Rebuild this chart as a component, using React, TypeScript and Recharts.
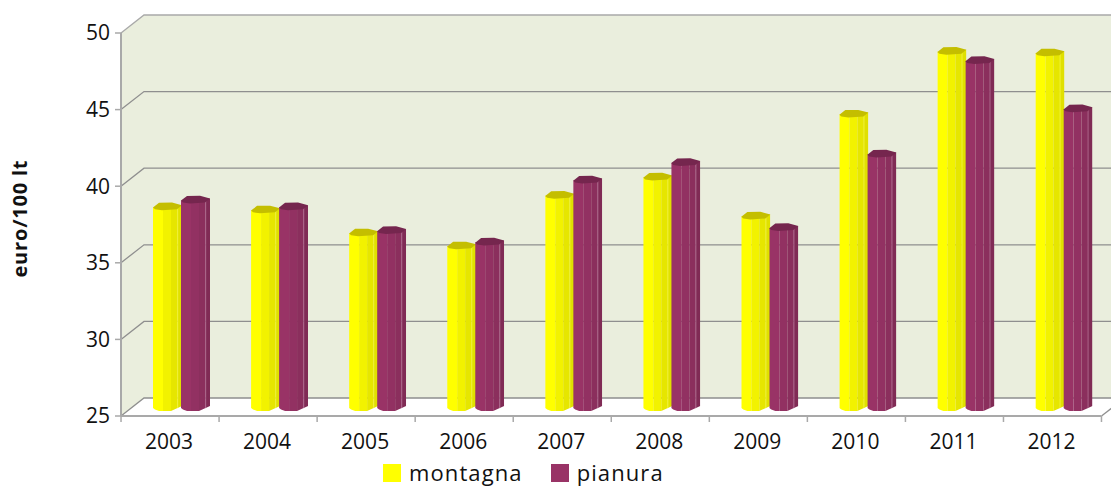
import { Bar, BarChart, CartesianGrid, Legend, XAxis, YAxis, usePlotArea } from 'recharts'

const years = ['2003', '2004', '2005', '2006', '2007', '2008', '2009', '2010', '2011', '2012']
const montagna = [38.1, 37.9, 36.4, 35.55, 38.85, 40.05, 37.5, 44.15, 48.25, 48.15]
const pianura = [38.55, 38.1, 36.55, 35.8, 39.85, 41.0, 36.75, 41.55, 47.65, 44.5]
const yTicks = [25, 30, 35, 40, 45, 50]
const wallTick = [50]

const rows = years.map((year, i) => ({ year, montagna: montagna[i], pianura: pianura[i] }))

const FONT = '"Open Sans", sans-serif'
const GRID = '#8f8f8f'
const AXIS = '#a9a9a9'
const WALL = '#eaeedd'
// how far the back wall sits from the front plane, the bars stand half way
const DEPTH_X = 23
const DEPTH_Y = 18
const BAND = 98

const YELLOW = { bands: ['#ffff00', '#f2f200', '#e6e600'], side: '#e0e000', line: '#f4f43a', top: '#c4be00' }
const MAROON = { bands: ['#993366', '#923162', '#8b2f5d'], side: '#802b55', line: '#b06a90', top: '#75264e' }

function Walls() {
  const plot = usePlotArea()
  if (!plot) return null
  const { x, y, width, height } = plot
  const left = `${x},${y} ${x + DEPTH_X},${y - DEPTH_Y} ${x + DEPTH_X},${y + height - DEPTH_Y} ${x},${y + height}`
  return (
    <g>
      <polygon points={left} fill={WALL} />
      <rect x={x + DEPTH_X} y={y - DEPTH_Y} width={width} height={height} fill={WALL} />
    </g>
  )
}

// the grid is drawn below plain children, so the walls have to go through a grid as well
function wallLine(props: any) {
  return <Walls key={props.key} />
}

function gridLine(props: any) {
  const { x1, x2, y1, key } = props
  const by = y1 - DEPTH_Y
  const isFloor = y1 > 400
  return (
    <g key={key}>
      <path
        d={`M${x1},${y1} L${x1 + DEPTH_X},${by} L${x2 + DEPTH_X},${by}`}
        fill="none"
        stroke={by < 20 ? AXIS : GRID}
        strokeWidth={1.3}
      />
      {isFloor && <line x1={x2} y1={y1} x2={x2 + DEPTH_X} y2={by} stroke={GRID} strokeWidth={1.3} />}
    </g>
  )
}

function Column(props: any) {
  const { x, y, height, index, tone, name } = props
  const x0 = x + DEPTH_X / 2 - 0.5
  const top = y - DEPTH_Y / 2
  const base = y + height - DEPTH_Y / 2
  const w = props.width + 1
  const id = `col-${name}-${index}`
  const body = `M${x0},${top + 1} L${x0 + w},${top - 1} L${x0 + w},${base - 1} L${x0 + 18},${base + 4} L${x0 + 6},${base + 4} L${x0 + 2},${base + 2.5} L${x0},${base + 1} Z`
  const lid = `M${x0},${top + 1.2} L${x0 + 6},${top - 3.5} L${x0 + 19},${top - 3.7} L${x0 + w},${top - 1} L${x0 + w - 5},${top + 3} L${x0 + 9},${top + 4} L${x0 + 2},${top + 3} Z`
  return (
    <g>
      <clipPath id={id}>
        <path d={body} />
      </clipPath>
      <g clipPath={`url(#${id})`}>
        <rect x={x0} y={top - 5} width={10} height={height + 12} fill={tone.bands[0]} />
        <rect x={x0 + 10} y={top - 5} width={8} height={height + 12} fill={tone.bands[1]} />
        <rect x={x0 + 18} y={top - 5} width={6.5} height={height + 12} fill={tone.bands[2]} />
        <rect x={x0 + 24.5} y={top - 5} width={w - 24.5} height={height + 12} fill={tone.side} />
        <line x1={x0 + 24.7} x2={x0 + 24.7} y1={top} y2={base + 2} stroke={tone.line} strokeWidth={0.8} />
      </g>
      <path d={lid} fill={tone.top} />
    </g>
  )
}

function YearTick(props: any) {
  const { x, index, payload } = props
  const left = x - BAND / 2
  return (
    <g>
      <line x1={left} x2={left} y1={416} y2={422} stroke={AXIS} strokeWidth={1.5} />
      {index === years.length - 1 && <line x1={left + BAND} x2={left + BAND} y1={416} y2={422} stroke={AXIS} strokeWidth={1.5} />}
      <text x={x - 1} y={449} textAnchor="middle" fontFamily={FONT} fontSize={21} fill="#111">
        {payload.value}
      </text>
    </g>
  )
}

function LegendRow(props: any) {
  const items = props.payload || []
  return (
    <div style={{ display: 'flex', fontFamily: FONT, fontSize: 22, letterSpacing: 1.1, color: '#111', lineHeight: '23px' }}>
      {items.map((item: any) => (
        <div key={item.value} style={{ display: 'flex', alignItems: 'center', marginRight: 28 }}>
          <span style={{ width: 18, height: 18, background: item.color, marginRight: 8 }} />
          <span>{item.value}</span>
        </div>
      ))}
    </div>
  )
}

export default function App() {
  return (
    <div style={{ position: 'absolute', left: 0, top: 0, width: 1111, height: 486, overflow: 'hidden' }}>
      <BarChart
        width={1111}
        height={486}
        data={rows}
        margin={{ top: 33, right: 9.5, bottom: 0, left: 0 }}
        barCategoryGap={21}
        barGap={0}
      >
        <CartesianGrid vertical={false} horizontal={wallLine} horizontalValues={wallTick} />
        <CartesianGrid vertical={false} horizontal={gridLine} horizontalValues={yTicks} />
        <XAxis
          dataKey="year"
          height={70}
          axisLine={{ stroke: AXIS, strokeWidth: 2 }}
          tickLine={false}
          tick={YearTick}
          interval={0}
        />
        <YAxis
          domain={[25, 50]}
          ticks={yTicks}
          width={121}
          axisLine={{ stroke: AXIS, strokeWidth: 2 }}
          tickLine={{ stroke: AXIS, strokeWidth: 1.5 }}
          tickSize={6}
          tickMargin={5}
          tick={{ fontFamily: FONT, fontSize: 21, fill: '#111' }}
          label={{
            value: 'euro/100 lt',
            angle: -90,
            position: 'insideLeft',
            offset: 20,
            dy: 53,
            style: { fontFamily: FONT, fontSize: 20, letterSpacing: 0.8, fontWeight: 700, fill: '#111' },
          }}
        />
        <Legend
          layout="horizontal"
          verticalAlign="middle"
          align="center"
          content={LegendRow}
          wrapperStyle={{ left: 383, top: 461, width: 400 }}
        />
        <Bar dataKey="montagna" name="montagna" fill="#ffff00" isAnimationActive={false} shape={(p: any) => <Column {...p} tone={YELLOW} name="m" />} />
        <Bar dataKey="pianura" name="pianura" fill="#993366" isAnimationActive={false} shape={(p: any) => <Column {...p} tone={MAROON} name="p" />} />
      </BarChart>
    </div>
  )
}
